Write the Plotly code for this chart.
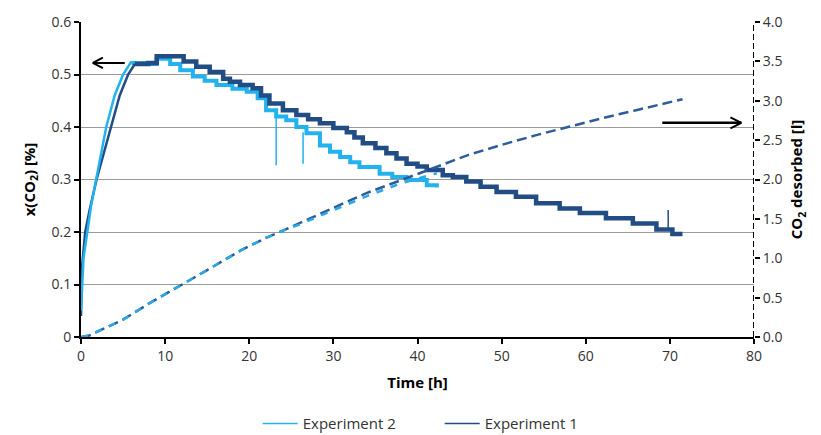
import plotly.graph_objects as go

# ---- Experiment 1: CO2 fraction in gas [%] ----
exp1_rise_t = [0, 0.1, 0.5, 1.0, 1.85, 2.7, 3.6, 4.6, 5.6, 6.4]
exp1_rise_x = [0.04, 0.13, 0.20, 0.24, 0.30, 0.35, 0.40, 0.46, 0.50, 0.52]
exp1_t = [6.4, 8.0, 9.0, 12.2, 13.7, 15.3, 16.9, 17.7, 18.9, 20.4, 21.4, 22.4, 24.0,
          25.6, 27.0, 28.4, 30.0, 31.6, 32.5, 33.5, 35.0, 36.3, 37.5, 38.7, 40.0,
          41.1, 43.0, 44.2, 45.8, 47.5, 49.4, 51.7, 54.1, 56.9, 59.3, 62.4, 65.6,
          68.4, 70.3, 71.5]
exp1_x = [0.520, 0.522, 0.535, 0.525, 0.515, 0.505, 0.492, 0.486, 0.480, 0.474, 0.460,
          0.445, 0.432, 0.423, 0.415, 0.407, 0.398, 0.390, 0.380, 0.369, 0.360, 0.350,
          0.340, 0.330, 0.325, 0.318, 0.308, 0.305, 0.296, 0.286, 0.276, 0.267, 0.255,
          0.245, 0.236, 0.226, 0.216, 0.205, 0.196, 0.196]
exp1_spike_t = [69.8, 69.8]
exp1_spike_x = [0.205, 0.242]

# ---- Experiment 2: CO2 fraction in gas [%] ----
exp2_rise_t = [0, 0.3, 0.75, 1.2, 1.8, 2.4, 3.0, 4.0, 5.0, 6.0]
exp2_rise_x = [0.05, 0.15, 0.20, 0.25, 0.30, 0.35, 0.40, 0.46, 0.50, 0.525]
exp2_t = [6.0, 7.5, 9.0, 10.6, 11.8, 13.3, 14.7, 16.1, 18.0, 19.7, 21.0, 22.0, 23.2,
          24.4, 25.6, 26.8, 28.4, 29.6, 30.8, 32.0, 33.1, 35.5, 37.0, 38.7, 41.1, 42.3]
exp2_x = [0.522, 0.520, 0.530, 0.520, 0.508, 0.496, 0.488, 0.480, 0.473, 0.467, 0.455,
          0.432, 0.420, 0.413, 0.400, 0.388, 0.365, 0.353, 0.343, 0.333, 0.324, 0.311,
          0.305, 0.299, 0.289, 0.285]
exp2_spike_t = [23.2, 23.2, None, 26.4, 26.4]
exp2_spike_x = [0.420, 0.327, None, 0.390, 0.330]

# ---- Cumulative CO2 desorbed [l] ----
exp1_des_t = [0, 1, 2, 3, 5, 8, 10, 12, 15, 19, 22, 24, 26, 30, 34, 38, 42, 46, 50,
              54, 58, 62, 66, 70, 71.5]
exp1_des_v = [0, 0.02, 0.07, 0.12, 0.22, 0.42, 0.54, 0.67, 0.85, 1.10, 1.26, 1.35,
              1.45, 1.64, 1.83, 1.99, 2.15, 2.31, 2.44, 2.56, 2.67, 2.78, 2.88, 2.98, 3.02]
exp2_des_t = [0, 1, 2, 3, 5, 8, 10, 12, 15, 19, 22, 24, 26, 30, 34, 38, 42.3]
exp2_des_v = [0, 0.02, 0.07, 0.12, 0.22, 0.42, 0.54, 0.67, 0.85, 1.10, 1.26, 1.35,
              1.43, 1.61, 1.79, 1.95, 2.08]

x_ticks = [0, 10, 20, 30, 40, 50, 60, 70, 80]
left_ticks = [0, 0.1, 0.2, 0.3, 0.4, 0.5, 0.6]
left_labels = ["0", "0.1", "0.2", "0.3", "0.4", "0.5", "0.6"]
right_ticks = [0, 0.5, 1.0, 1.5, 2.0, 2.5, 3.0, 3.5, 4.0]

C_LIGHT = "#22B2EE"
C_DARK = "#214D84"
C_DARK_DASH = "#2D5C98"
C_LIGHT_DASH = "#2AA9E6"

fig = go.Figure()

# legend-only entries with thin sample lines (Experiment 2 listed first)
fig.add_trace(go.Scatter(x=[None], y=[None], mode="lines", name="Experiment 2",
                         line=dict(color=C_LIGHT, width=1.5), legendgroup="e2"))
fig.add_trace(go.Scatter(x=[None], y=[None], mode="lines", name="Experiment 1",
                         line=dict(color=C_DARK, width=1.5), legendgroup="e1"))

# desorbed volume on the secondary axis
fig.add_trace(go.Scatter(x=exp1_des_t, y=exp1_des_v, mode="lines", showlegend=False,
                         yaxis="y2", line=dict(color=C_DARK_DASH, width=2.5, dash="10px,5px")))
fig.add_trace(go.Scatter(x=exp2_des_t, y=exp2_des_v, mode="lines", showlegend=False,
                         yaxis="y2", line=dict(color=C_LIGHT_DASH, width=2.5, dash="7px,8px")))

# CO2 fraction curves
fig.add_trace(go.Scatter(x=exp2_t, y=exp2_x, mode="lines", showlegend=False,
                         line=dict(color=C_LIGHT, width=4, shape="hv"), legendgroup="e2"))
fig.add_trace(go.Scatter(x=exp1_t, y=exp1_x, mode="lines", showlegend=False,
                         line=dict(color=C_DARK, width=4.5, shape="hv"), legendgroup="e1"))
fig.add_trace(go.Scatter(x=exp1_rise_t, y=exp1_rise_x, mode="lines", showlegend=False,
                         line=dict(color=C_DARK, width=2.5), legendgroup="e1"))
fig.add_trace(go.Scatter(x=exp2_rise_t, y=exp2_rise_x, mode="lines", showlegend=False,
                         line=dict(color=C_LIGHT, width=2.5), legendgroup="e2"))
fig.add_trace(go.Scatter(x=exp1_spike_t, y=exp1_spike_x, mode="lines", showlegend=False,
                         line=dict(color=C_DARK, width=1.5), legendgroup="e1"))
fig.add_trace(go.Scatter(x=exp2_spike_t, y=exp2_spike_x, mode="lines", showlegend=False,
                         line=dict(color=C_LIGHT, width=1.5), legendgroup="e2",
                         connectgaps=False))

FONT = "'Open Sans', Lato, sans-serif"
TICK_FONT = dict(family=FONT, size=14, color="#333333")
TITLE_FONT = dict(family=FONT, size=15, color="#000000")

shapes = [
    # dashed right-hand axis line
    dict(type="line", xref="x", yref="paper", x0=80, x1=80, y0=0, y1=1,
         line=dict(color="black", width=2, dash="6px,3px"), layer="above"),
    # arrow pointing to the left axis
    dict(type="line", xref="x", yref="y", x0=5.2, x1=1.4, y0=0.522, y1=0.522,
         line=dict(color="black", width=2)),
    dict(type="line", xref="x", yref="y", x0=1.4, x1=2.6, y0=0.522, y1=0.532,
         line=dict(color="black", width=2)),
    dict(type="line", xref="x", yref="y", x0=1.4, x1=2.6, y0=0.522, y1=0.512,
         line=dict(color="black", width=2)),
    # arrow pointing to the right axis
    dict(type="line", xref="x", yref="y2", x0=69.1, x1=78.5, y0=2.72, y1=2.72,
         line=dict(color="black", width=2.5)),
    dict(type="line", xref="x", yref="y2", x0=78.5, x1=77.2, y0=2.72, y1=2.79,
         line=dict(color="black", width=2)),
    dict(type="line", xref="x", yref="y2", x0=78.5, x1=77.2, y0=2.72, y1=2.65,
         line=dict(color="black", width=2)),
]

fig.update_layout(
    width=821, height=435,
    margin=dict(l=81, r=67, t=22, b=98, autoexpand=False),
    paper_bgcolor="white", plot_bgcolor="white",
    font=dict(family=FONT, size=14, color="#333333"),
    xaxis=dict(range=[0, 80], tickmode="array", tickvals=x_ticks,
               showgrid=False, zeroline=False, showline=True,
               linecolor="black", linewidth=2, ticks="outside", ticklen=5,
               tickcolor="black", tickwidth=1.5, tickfont=TICK_FONT,
               title=dict(text="<b>Time [h]</b>", font=TITLE_FONT, standoff=14)),
    yaxis=dict(range=[0, 0.6], tickmode="array", tickvals=left_ticks,
               ticktext=left_labels, showgrid=True, gridcolor="#9A9A9A",
               gridwidth=1, zeroline=False, showline=True, linecolor="black",
               linewidth=2, ticks="outside", ticklen=5, tickcolor="black",
               tickwidth=1.5, tickfont=TICK_FONT,
               title=dict(text="<b>x(CO<sub>2</sub>) [%]</b>", font=TITLE_FONT,
                          standoff=12)),
    yaxis2=dict(range=[0, 4.0], overlaying="y", side="right", tickmode="array",
                tickvals=right_ticks, tickformat=".1f", showgrid=False,
                zeroline=False, showline=False, ticks="outside", ticklen=5,
                tickcolor="black", tickwidth=1.5, tickfont=TICK_FONT,
                title=dict(text="<b>CO<sub>2</sub> desorbed [l]</b>",
                           font=TITLE_FONT, standoff=10)),
    legend=dict(orientation="h", x=0.533, xanchor="center", y=-0.275, yanchor="middle",
                font=dict(family=FONT, size=15, color="#333333"),
                entrywidth=132, entrywidthmode="pixels", itemwidth=35,
                bgcolor="rgba(0,0,0,0)"),
    shapes=shapes,
    showlegend=True,
)

fig.write_html("out.html")
